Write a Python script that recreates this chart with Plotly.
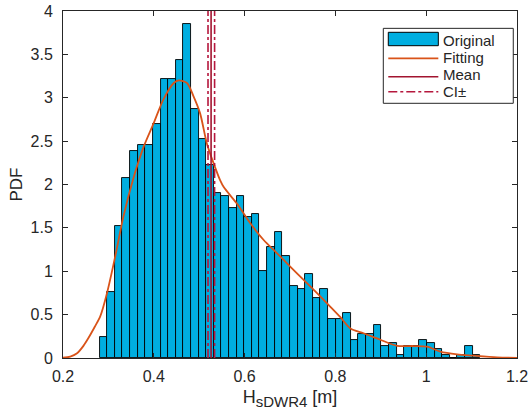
import plotly.graph_objects as go

# Histogram (PDF-normalised) data
bin_start = 0.2806
bin_width = 0.01677
pdf_values = [0.24, 0.757, 1.52, 2.075, 2.386, 2.455, 2.455, 2.70, 3.22, 3.22,
              3.43, 3.85, 2.87, 2.53, 2.22, 1.905, 1.867, 1.729, 1.867, 1.629,
              1.66, 0.999, 1.28, 1.452, 1.172, 0.826, 0.792, 0.965, 0.688, 0.792,
              0.446, 0.446, 0.515, 0.204, 0.273, 0.273, 0.377, 0.135, 0.169, 0.03,
              0.135, 0.135, 0.204, 0.169, 0.10, 0.03, 0.0, 0.03, 0.135, 0.03]
bin_centers = [bin_start + bin_width * (i + 0.5) for i in range(len(pdf_values))]

# Fitted PDF curve
fit_x = [0.2, 0.216, 0.231, 0.245, 0.256, 0.27, 0.282, 0.297, 0.315, 0.333, 0.356,
         0.378, 0.4, 0.422, 0.444, 0.455, 0.473, 0.488, 0.502, 0.517, 0.532, 0.546,
         0.554, 0.583, 0.613, 0.642, 0.671, 0.701, 0.73, 0.759, 0.789, 0.811, 0.833,
         0.862, 0.899, 0.936, 0.972, 1.002, 1.031, 1.068, 1.104, 1.156, 1.2]
fit_y = [0.005, 0.015, 0.054, 0.14, 0.23, 0.36, 0.48, 0.75, 1.17, 1.63, 2.09,
         2.44, 2.71, 2.99, 3.17, 3.20, 3.17, 3.01, 2.82, 2.47, 2.24, 2.05,
         1.97, 1.78, 1.55, 1.36, 1.21, 1.05, 0.90, 0.75, 0.59, 0.47, 0.34,
         0.285, 0.21, 0.14, 0.138, 0.13, 0.073, 0.042, 0.027, 0.008, 0.002]

mean_val = 0.5262
ci_low = 0.5194
ci_high = 0.5339
y_range = [0, 4]

x_ticks = [0.2, 0.4, 0.6, 0.8, 1.0, 1.2]
x_ticklabels = ["0.2", "0.4", "0.6", "0.8", "1", "1.2"]
y_ticks = [0, 0.5, 1, 1.5, 2, 2.5, 3, 3.5, 4]
y_ticklabels = ["0", "0.5", "1", "1.5", "2", "2.5", "3", "3.5", "4"]
legend_labels = ["Original", "Fitting", "Mean", "CI±"]

FONT = "Liberation Sans, Arial, sans-serif"
TXT = "#262626"
BAR_COLOR = "#00AEE0"
FIT_COLOR = "#D95319"
MEAN_COLOR = "#A2142F"
CI_COLOR = "#B5173D"

fig = go.Figure()
fig.add_trace(go.Bar(
    x=bin_centers, y=pdf_values, width=bin_width, name=legend_labels[0],
    marker=dict(color=BAR_COLOR, line=dict(color="black", width=0.9)),
))
fig.add_trace(go.Scatter(
    x=fit_x, y=fit_y, mode="lines", name=legend_labels[1],
    line=dict(color=FIT_COLOR, width=1.8, shape="spline", smoothing=0.8),
))
fig.add_trace(go.Scatter(
    x=[mean_val, mean_val], y=y_range, mode="lines", name=legend_labels[2],
    line=dict(color=MEAN_COLOR, width=1.6),
))
fig.add_trace(go.Scatter(
    x=[ci_low, ci_low], y=y_range, mode="lines", name=legend_labels[3],
    line=dict(color=CI_COLOR, width=1.6, dash="dashdot"),
))
fig.add_trace(go.Scatter(
    x=[ci_high, ci_high], y=y_range, mode="lines", name=legend_labels[3],
    line=dict(color=CI_COLOR, width=1.6, dash="dashdot"),
))

axis_common = dict(
    showline=True, linecolor=TXT, linewidth=1, mirror="ticks",
    ticks="inside", ticklen=5, tickcolor=TXT, showgrid=False, zeroline=False,
    tickfont=dict(family=FONT, size=16, color=TXT), automargin=False,
)

# MATLAB-style legend box (paper coordinates relative to plot area)
shapes = [
    dict(type="rect", xref="paper", yref="paper", x0=0.7055, x1=0.9918, y0=0.734, y1=0.950,
         line=dict(color=TXT, width=1), fillcolor="white", layer="above"),
    dict(type="rect", xref="paper", yref="paper", x0=0.7165, x1=0.8267, y0=0.900, y1=0.9386,
         line=dict(color="black", width=1), fillcolor=BAR_COLOR, layer="above"),
    dict(type="line", xref="paper", yref="paper", x0=0.7165, x1=0.8267, y0=0.8637, y1=0.8637,
         line=dict(color=FIT_COLOR, width=1.8), layer="above"),
    dict(type="line", xref="paper", yref="paper", x0=0.7165, x1=0.8267, y0=0.8107, y1=0.8107,
         line=dict(color=MEAN_COLOR, width=1.6), layer="above"),
    dict(type="line", xref="paper", yref="paper", x0=0.7165, x1=0.8267, y0=0.7674, y1=0.7674,
         line=dict(color=CI_COLOR, width=1.6, dash="dashdot"), layer="above"),
]
text_y = [0.9164, 0.8654, 0.8156, 0.7674]
annotations = [
    dict(text=lab, xref="paper", yref="paper", x=0.833, y=ty, xanchor="left", yanchor="middle",
         showarrow=False, font=dict(family=FONT, size=15, color=TXT))
    for lab, ty in zip(legend_labels, text_y)
]

fig.update_layout(
    width=529, height=416,
    margin=dict(l=63, r=12, t=11, b=58),
    paper_bgcolor="white", plot_bgcolor="white",
    bargap=0,
    showlegend=False,
    font=dict(family=FONT, color=TXT),
    xaxis=dict(range=[0.2, 1.2], tickvals=x_ticks, ticktext=x_ticklabels,
               ticklabelstandoff=4,
               title=dict(text="H<sub><span style='font-size:15px'>sDWR4</span></sub> [m]",
                          font=dict(size=18, family=FONT, color=TXT), standoff=6),
               **axis_common),
    yaxis=dict(range=[0, 4], tickvals=y_ticks, ticktext=y_ticklabels,
               ticklabelstandoff=6,
               title=dict(text="PDF", font=dict(size=17, family=FONT, color=TXT), standoff=3),
               **axis_common),
    shapes=shapes,
    annotations=annotations,
)

fig.write_html("out.html")
